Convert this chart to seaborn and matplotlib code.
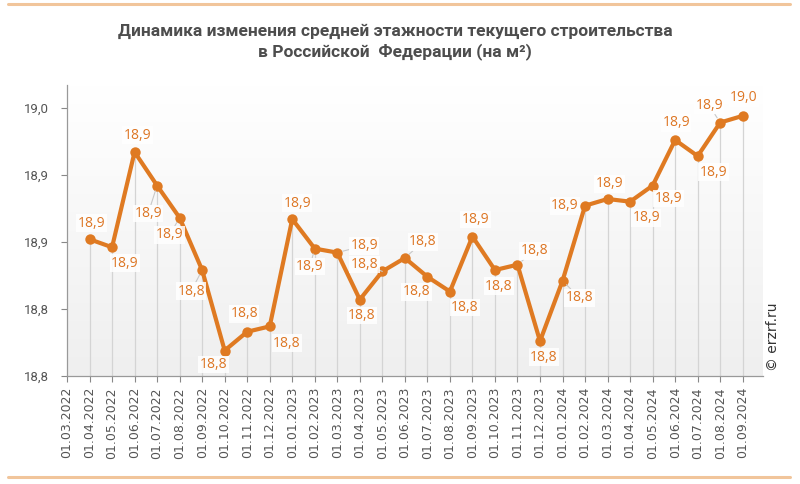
import numpy as np
import pandas as pd
import matplotlib
matplotlib.use("Agg")
import matplotlib.pyplot as plt
import seaborn as sns
from matplotlib import font_manager

# ---------------- data ----------------
dates = ["01.03.2022", "01.04.2022", "01.05.2022", "01.06.2022", "01.07.2022", "01.08.2022",
         "01.09.2022", "01.10.2022", "01.11.2022", "01.12.2022", "01.01.2023", "01.02.2023",
         "01.03.2023", "01.04.2023", "01.05.2023", "01.06.2023", "01.07.2023", "01.08.2023",
         "01.09.2023", "01.10.2023", "01.11.2023", "01.12.2023", "01.01.2024", "01.02.2024",
         "01.03.2024", "01.04.2024", "01.05.2024", "01.06.2024", "01.07.2024", "01.08.2024",
         "01.09.2024"]
# first category (01.03.2022) has no value
values = [np.nan, 18.852, 18.846, 18.917, 18.892, 18.868, 18.829, 18.769, 18.783, 18.787,
          18.867, 18.845, 18.842, 18.807, 18.828, 18.838, 18.824, 18.813, 18.854, 18.829,
          18.833, 18.776, 18.821, 18.877, 18.882, 18.880, 18.892, 18.926, 18.914, 18.939,
          18.944]
value_labels = ["", "18,9", "18,9", "18,9", "18,9", "18,9", "18,8", "18,8", "18,8", "18,8",
                "18,9", "18,9", "18,9", "18,8", "18,8", "18,8", "18,8", "18,8", "18,9", "18,8",
                "18,8", "18,8", "18,8", "18,9", "18,9", "18,9", "18,9", "18,9", "18,9", "18,9",
                "19,0"]
y_ticks = [18.75, 18.80, 18.85, 18.90, 18.95]
y_tick_labels = ["18,8", "18,8", "18,9", "18,9", "19,0"]

title = "Динамика изменения средней этажности текущего строительства\nв Российской  Федерации (на м²)"

# label placement (pixel offsets from point) and whether a leader line is drawn
label_dx = [0, 2, 13, 3, -9, -10, -11, -11, -3, 17, 5, -5, 27, 2, -18, 18, -11, 15, 3, 4,
            17, 4, 17, -20, 2, 16, 16, 1, 16, -11, 1]
label_dy = [0, -16, 16, -17, 28, 17, 21, 14, -18, 17, -16, 18, -7, 16, -7, -16, 15, 16, -17, 16,
            -14, 16, 17, 0, -15, 16, 13, -17, 16, -17, -18]
leader = [False, False, False, False, True, True, True, False, False, False, False, True, True,
          False, True, True, False, False, False, False, True, False, True, False, False, False,
          False, False, False, True, False]

df = pd.DataFrame({"x": np.arange(len(dates)), "date": dates, "value": values})

# ---------------- style ----------------
sns.set_theme(style="white")
avail = {f.name for f in font_manager.fontManager.ttflist}
title_font = "Liberation Sans Narrow" if "Liberation Sans Narrow" in avail else "Roboto"
plt.rcParams["font.family"] = ["Roboto", "DejaVu Sans"]

LINE = "#DF7A22"
LABEL = "#DD7624"
GREY_TXT = "#555555"

fig = plt.figure(figsize=(8, 4.84), dpi=100)
ax = fig.add_axes([67 / 800, 1 - 376 / 484, (763 - 67) / 800, (376 - 85) / 484])

ax.set_xlim(0, 30.9)
ax.set_ylim(18.75, 18.967)

# gradient background
grad = np.linspace(0, 1, 256).reshape(-1, 1)
cmap = matplotlib.colors.LinearSegmentedColormap.from_list("bg", ["#efefef", "#ffffff"])
ax.imshow(grad, extent=[0, 30.9, 18.75, 18.967], origin="lower", aspect="auto",
          cmap=cmap, zorder=0)

# drop lines
valid = df.dropna()
ax.vlines(valid["x"], 18.75, valid["value"], color="#d4d4d4", lw=0.9, zorder=1)

sns.lineplot(data=df, x="x", y="value", ax=ax, color=LINE, lw=3.0, marker="o",
             markersize=7.5, markeredgewidth=0, zorder=3)

for i, (xv, yv) in enumerate(zip(df["x"], df["value"])):
    if np.isnan(yv):
        continue
    arrow = dict(arrowstyle="-", color="#c8c8c8", lw=0.8, shrinkA=0, shrinkB=4) if leader[i] else None
    ax.annotate(value_labels[i], (xv, yv), xytext=(label_dx[i], -label_dy[i]),
                textcoords="offset pixels", ha="center", va="center",
                fontsize=10, color=LABEL, family=["Open Sans", "DejaVu Sans"],
                bbox=dict(boxstyle="square,pad=0.1", fc="white", ec="none", alpha=0.85),
                arrowprops=arrow, zorder=4)

ax.set_xticks(df["x"])
ax.set_xticklabels(dates, rotation=90, fontsize=9, color=GREY_TXT, family="DejaVu Sans")
ax.set_yticks(y_ticks)
ax.set_yticklabels(y_tick_labels, fontsize=9.5, color=GREY_TXT)
ax.tick_params(axis="both", which="both", length=4, width=0.8, color="#888888",
               direction="out", bottom=True, left=True)
ax.tick_params(axis="y", pad=9)
ax.tick_params(axis="x", pad=4)
ax.set_xlabel("")
ax.set_ylabel("")
for s in ["top", "right"]:
    ax.spines[s].set_visible(False)
for s in ["left", "bottom"]:
    ax.spines[s].set_color("#999999")
    ax.spines[s].set_linewidth(0.9)

fig.text(395 / 800, 1 - 42 / 484, title, ha="center", va="center", fontsize=12.5,
         fontweight="bold", color="#4d4d4d", family=title_font, linespacing=1.3)

fig.text(773 / 800, 1 - 337 / 484, "© erzrf.ru", rotation=90, ha="center", va="center",
         fontsize=10, color="#333333", family="DejaVu Sans")

# decorative rules top and bottom
for yy in [4, 477]:
    fig.add_artist(matplotlib.lines.Line2D([8 / 800, 790 / 800], [1 - yy / 484] * 2,
                                           color="#F1C59B", lw=2.2))

fig.savefig("out.png", dpi=100)
